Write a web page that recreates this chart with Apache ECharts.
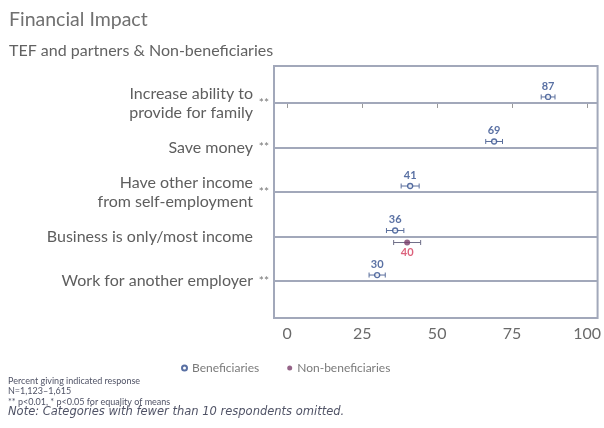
<!DOCTYPE html>
<html>
<head>
<meta charset="utf-8">
<script src="https://cdn.jsdelivr.net/npm/echarts@6/dist/echarts.min.js"></script>
<style>
  html, body { margin: 0; padding: 0; background: #fff; }
  #main { width: 604px; height: 428px; }
</style>
</head>
<body>
<div id="main"></div>
<script>
// chart data
const categories = [
  'Increase ability to\nprovide for family',
  'Save money',
  'Have other income\nfrom self-employment',
  'Business is only/most income',
  'Work for another employer'
];
const stars = ['**', '**', '**', '', '**'];
const benValues = [87, 69, 41, 36, 30];
const benLow = [84.7, 66.2, 38, 33.1, 27.3];
const benHigh = [89.3, 71.8, 44, 38.9, 32.7];
const nonValues = [null, null, null, 40, null];
const nonLow = [null, null, null, 35.5, null];
const nonHigh = [null, null, null, 44.5, null];
const xTicks = [0, 25, 50, 75, 100];
const rowIdx = [0, 1, 2, 3, 4];

const font = 'Lato, "Open Sans", sans-serif';
const lineCol = '#a2a8ba';
const blue = '#2f4c8c';
const red = '#d33a5a';

const benPts = benValues.map((v, i) => [v, i]);
const nonPts = nonValues.map((v, i) => v == null ? null : [v, i]).filter(d => d);
const benErr = benValues.map((v, i) => [benLow[i], benHigh[i], i]);
const nonErr = nonValues.map((v, i) => v == null ? null : [nonLow[i], nonHigh[i], i]).filter(d => d);

function errorBar(dy, color) {
  return function (params, api) {
    const a = api.coord([api.value(0), api.value(2)]);
    const b = api.coord([api.value(1), api.value(2)]);
    const y = a[1] + dy;
    const st = { stroke: color, lineWidth: 1 };
    return {
      type: 'group',
      children: [
        { type: 'line', shape: { x1: a[0], y1: y, x2: b[0], y2: y }, style: st },
        { type: 'line', shape: { x1: a[0], y1: y - 2.5, x2: a[0], y2: y + 2.5 }, style: st },
        { type: 'line', shape: { x1: b[0], y1: y - 2.5, x2: b[0], y2: y + 2.5 }, style: st }
      ]
    };
  };
}

const chart = echarts.init(document.getElementById('main'));
chart.setOption({
  animation: false,
  textStyle: { fontFamily: font },
  title: [
    { text: 'Financial Impact', left: 4, top: 5,
      textStyle: { fontSize: 19.5, fontWeight: 'normal', color: '#707070', fontFamily: font } },
    { text: 'TEF and partners & Non-beneficiaries', left: 4, top: 38,
      textStyle: { fontSize: 16, fontWeight: 'normal', color: '#626262', fontFamily: font } }
  ],
  legend: {
    data: ['Beneficiaries', 'Non-beneficiaries'],
    left: 176, top: 357,
    itemWidth: 5, itemHeight: 5, itemGap: 28,
    textStyle: { fontSize: 12, color: '#7a7a7a', fontFamily: font }
  },
  grid: {
    left: 274, right: 2, top: 66, bottom: 110,
    show: true, borderColor: lineCol, borderWidth: 2, backgroundColor: '#fff'
  },
  xAxis: {
    type: 'value', min: -4.4, max: 103.5,
    axisLine: { show: false },
    splitLine: { show: false },
    axisTick: { show: true, customValues: xTicks, length: 5, lineStyle: { color: '#999' } },
    axisLabel: { customValues: xTicks, fontSize: 16, color: '#6a6a6a', margin: 8 }
  },
  yAxis: [
    {
      type: 'value', min: -0.83, max: 4.83, inverse: true,
      axisLine: { show: false }, axisTick: { show: false }, splitLine: { show: false },
      axisLabel: {
        customValues: rowIdx,
        formatter: v => categories[v],
        fontSize: 16, lineHeight: 19, color: '#5e5e5e', margin: 21, align: 'right'
      }
    },
    {
      type: 'value', position: 'left', min: -0.83, max: 4.83, inverse: true,
      axisLine: { show: false }, axisTick: { show: false }, splitLine: { show: false },
      axisLabel: {
        customValues: rowIdx,
        formatter: v => stars[v],
        fontSize: 12, color: '#777', margin: 5, align: 'right'
      }
    }
  ],
  series: [
    {
      name: 'rows', type: 'line', data: [], silent: true,
      markLine: {
        symbol: 'none', silent: true, animation: false,
        label: { show: false },
        lineStyle: { color: lineCol, width: 2, type: 'solid' },
        data: rowIdx.map(i => ({ yAxis: i }))
      }
    },
    {
      name: 'benErr', type: 'custom', data: benErr,
      encode: { x: [0, 1], y: 2 },
      renderItem: errorBar(-6, '#5a6e9c'), z: 3, silent: true
    },
    {
      name: 'nonErr', type: 'custom', data: nonErr,
      encode: { x: [0, 1], y: 2 },
      renderItem: errorBar(6, '#6e6e88'), z: 3, silent: true
    },
    {
      name: 'Beneficiaries', type: 'scatter', data: benPts, z: 4,
      symbol: 'circle', symbolSize: 5, symbolOffset: [0, -6],
      itemStyle: { color: '#fff', borderColor: blue, borderWidth: 1.3 },
      label: {
        show: true, position: 'top', distance: 2,
        formatter: p => p.value[0],
        color: blue, fontSize: 11, fontWeight: 'bold'
      }
    },
    {
      name: 'Non-beneficiaries', type: 'scatter', data: nonPts, z: 4,
      symbol: 'circle', symbolSize: 6, symbolOffset: [0, 6],
      itemStyle: { color: '#7a3d6a' },
      label: {
        show: true, position: 'bottom', distance: 1,
        formatter: p => p.value[0],
        color: red, fontSize: 11, fontWeight: 'bold'
      }
    }
  ],
  graphic: [
    {
      type: 'text', left: 8, top: 376,
      style: {
        text: 'Percent giving indicated response\nN=1,123\u20131,615\n** p<0.01, * p<0.05 for equality of means',
        font: '9px ' + font, lineHeight: 10.3, fill: '#505366'
      }
    },
    {
      type: 'text', left: 8, top: 406,
      style: {
        text: 'Note: Categories with fewer than 10 respondents omitted.',
        font: 'italic 11.5px "DejaVu Sans", sans-serif', fill: '#505366'
      }
    }
  ]
});
</script>
</body>
</html>
